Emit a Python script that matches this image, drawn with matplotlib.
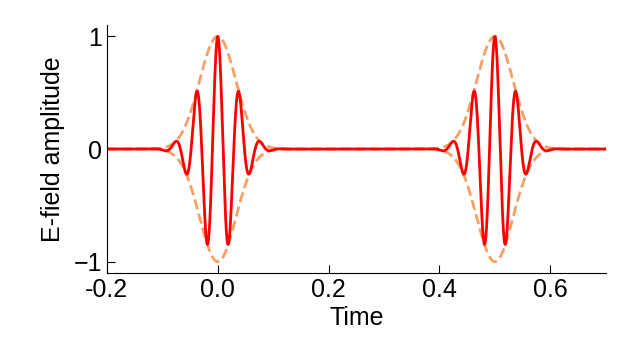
import numpy as np
import matplotlib
matplotlib.use('Agg')
import matplotlib.pyplot as plt

# pulse parameters
pulse_centers = [0.0, 0.5]      # time of each pulse peak
envelope_sigma = 0.0328         # gaussian width of the envelope
carrier_period = 0.0385         # time between carrier maxima
t_start, t_stop = -0.2, 0.7

xticks = [-0.2, 0.0, 0.2, 0.4, 0.6]
yticks = [-1, 0, 1]

t = np.linspace(t_start, t_stop, 4000)
env = np.zeros_like(t)
field = np.zeros_like(t)
for tc in pulse_centers:
    g = np.exp(-(t - tc) ** 2 / (2 * envelope_sigma ** 2))
    env += g
    field += g * np.cos(2 * np.pi * (t - tc) / carrier_period)

plt.rcParams['font.family'] = ['Liberation Sans', 'DejaVu Sans']

fig = plt.figure(figsize=(6.29, 3.54), dpi=100)
ax = fig.add_axes([0.170, 0.229, 0.793, 0.700])
ax.plot(t, env, '--', color='#f4a066', lw=2)
ax.plot(t, -env, '--', color='#f4a066', lw=2)
ax.plot(t, field, color='#ff0000', lw=2)

ax.set_xlim(t_start, t_stop)
ax.set_ylim(-1.1, 1.1)
ax.set_xticks(xticks)
ax.set_xticklabels([f'{v:.1f}' for v in xticks])
ax.set_yticks(yticks)
ax.set_xlabel('Time', fontsize=18, labelpad=3)
ax.set_ylabel('E-field amplitude', fontsize=18, labelpad=6)
ax.tick_params(direction='in', labelsize=18, length=6)
ax.spines['top'].set_visible(False)
ax.spines['right'].set_visible(False)

fig.savefig('out.png', dpi=100)
